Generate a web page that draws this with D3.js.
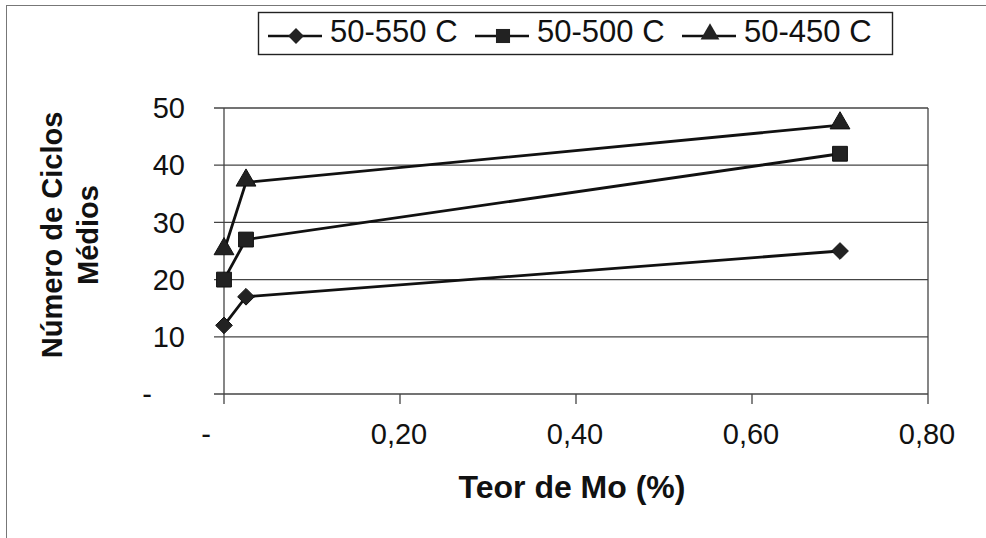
<!DOCTYPE html>
<html>
<head>
<meta charset="utf-8">
<script src="https://cdn.jsdelivr.net/npm/d3@7"></script>
<style>
  html, body { margin: 0; padding: 0; background: #fff; }
  svg { display: block; }
  text { font-family: "Liberation Sans", Arial, sans-serif; fill: #111; }
</style>
</head>
<body>
<svg id="chart" width="986" height="538"></svg>
<script>
// Molybdenum content (%) on the x axis
const moContent = [0, 0.025, 0.70];
// Mean number of cycles for each thermal cycling range
const seriesNames = ["50-550 C", "50-500 C", "50-450 C"];
const cycles550 = [12, 17, 25];
const cycles500 = [20, 27, 42];
const cycles450 = [25, 37, 47];
const markerShapes = ["diamond", "square", "triangle"];
const xTickValues = [0, 0.2, 0.4, 0.6, 0.8];
const yTickValues = [0, 10, 20, 30, 40, 50];
const xTitle = "Teor de Mo (%)";
const yTitleLines = ["Número de Ciclos", "Médios"];

const series = [cycles550, cycles500, cycles450].map((vals, i) => ({
  name: seriesNames[i],
  shape: markerShapes[i],
  points: vals.map((v, j) => ({ x: moContent[j], y: v }))
}));

const svg = d3.select("#chart");

// outer chart frame
svg.append("rect")
  .attr("x", 6.5).attr("y", 5.5).attr("width", 990).attr("height", 560)
  .attr("fill", "none").attr("stroke", "#777").attr("stroke-width", 1);

const plot = { left: 224, right: 928, top: 108, bottom: 394 };
const x = d3.scaleLinear().domain([0, 0.8]).range([plot.left, plot.right]);
const y = d3.scaleLinear().domain([0, 50]).range([plot.bottom, plot.top]);

const fmtX = v => v === 0 ? "-" : d3.format(".2f")(v).replace(".", ",");
const fmtY = v => v === 0 ? "-" : d3.format("d")(v);

const gridColor = "#444";

// horizontal gridlines with outward tick marks on the left
svg.append("g").selectAll("line").data(yTickValues).join("line")
  .attr("x1", plot.left - 10).attr("x2", plot.right)
  .attr("y1", d => y(d)).attr("y2", d => y(d))
  .attr("stroke", gridColor).attr("stroke-width", 1.3);

// value axis line and right plot border
svg.append("line")
  .attr("x1", x(0)).attr("x2", x(0)).attr("y1", plot.top).attr("y2", plot.bottom + 10)
  .attr("stroke", gridColor).attr("stroke-width", 1.3);
svg.append("line")
  .attr("x1", plot.right).attr("x2", plot.right).attr("y1", plot.top).attr("y2", plot.bottom + 10)
  .attr("stroke", gridColor).attr("stroke-width", 1.3);

// bottom tick marks
svg.append("g").selectAll("line").data(xTickValues.slice(1, -1)).join("line")
  .attr("x1", d => x(d)).attr("x2", d => x(d))
  .attr("y1", plot.bottom).attr("y2", plot.bottom + 10)
  .attr("stroke", gridColor).attr("stroke-width", 1.3);

// y tick labels
svg.append("g").selectAll("text").data(yTickValues).join("text")
  .attr("x", d => d === 0 ? 152 : 185)
  .attr("y", d => y(d))
  .attr("dy", "0.35em")
  .attr("text-anchor", "end")
  .attr("font-size", 29)
  .text(fmtY);

// x tick labels
svg.append("g").selectAll("text").data(xTickValues).join("text")
  .attr("x", d => d === 0 ? 206 : x(d) - 1)
  .attr("y", 444)
  .attr("text-anchor", "middle")
  .attr("font-size", 29)
  .text(fmtX);

// axis titles
svg.append("text")
  .attr("x", 572).attr("y", 498)
  .attr("text-anchor", "middle")
  .attr("font-size", 32).attr("font-weight", "bold")
  .text(xTitle);

const yTitle = svg.append("text")
  .attr("transform", "translate(62,235) rotate(-90)")
  .attr("text-anchor", "middle")
  .attr("font-size", 29).attr("font-weight", "bold");
yTitle.selectAll("tspan").data(yTitleLines).join("tspan")
  .attr("x", 0).attr("dy", (d, i) => i === 0 ? 0 : 36)
  .text(d => d);

// marker symbols: an even-sided diamond, a square and a triangle
const evenDiamond = {
  draw(ctx, size) {
    const r = Math.sqrt(size / 2);
    ctx.moveTo(0, -r); ctx.lineTo(r, 0); ctx.lineTo(0, r); ctx.lineTo(-r, 0); ctx.closePath();
  }
};
const symbolFor = (shape, scale = 1) => {
  if (shape === "diamond") return d3.symbol().type(evenDiamond).size(140 * scale)();
  if (shape === "square") return d3.symbol().type(d3.symbolSquare).size(220 * scale)();
  return d3.symbol().type(d3.symbolTriangle).size(170 * scale)();
};

const line = d3.line().x(d => x(d.x)).y(d => y(d.y));

const gSeries = svg.append("g").selectAll("g").data(series).join("g");
gSeries.append("path")
  .attr("d", d => line(d.points))
  .attr("fill", "none").attr("stroke", "#111").attr("stroke-width", 2.8);
gSeries.selectAll("path.mk").data(d => d.points.map(p => ({ p, shape: d.shape }))).join("path")
  .attr("class", "mk")
  .attr("transform", d => `translate(${x(d.p.x)},${y(d.p.y) - (d.shape === "triangle" ? 2 : 0)})`)
  .attr("d", d => symbolFor(d.shape))
  .attr("fill", "#222").attr("stroke", "#111").attr("stroke-width", 1);

// legend
const legend = svg.append("g");
legend.append("rect")
  .attr("x", 258.5).attr("y", 12.5).attr("width", 634).attr("height", 42)
  .attr("fill", "#fff").attr("stroke", "#222").attr("stroke-width", 1.4);
const legendX = [268, 475, 682];
const legendItems = legend.selectAll("g").data(series).join("g")
  .attr("transform", (d, i) => `translate(${legendX[i]},36)`);
legendItems.append("line")
  .attr("x1", 0).attr("x2", 54).attr("y1", 0).attr("y2", 0)
  .attr("stroke", "#111").attr("stroke-width", 2.6);
legendItems.append("path")
  .attr("transform", d => `translate(28,${d.shape === "triangle" ? -2 : 0})`)
  .attr("d", d => symbolFor(d.shape, 0.9))
  .attr("fill", "#222");
legendItems.append("text")
  .attr("x", 62).attr("y", 6)
  .attr("font-size", 31)
  .text(d => d.name);
</script>
</body>
</html>
